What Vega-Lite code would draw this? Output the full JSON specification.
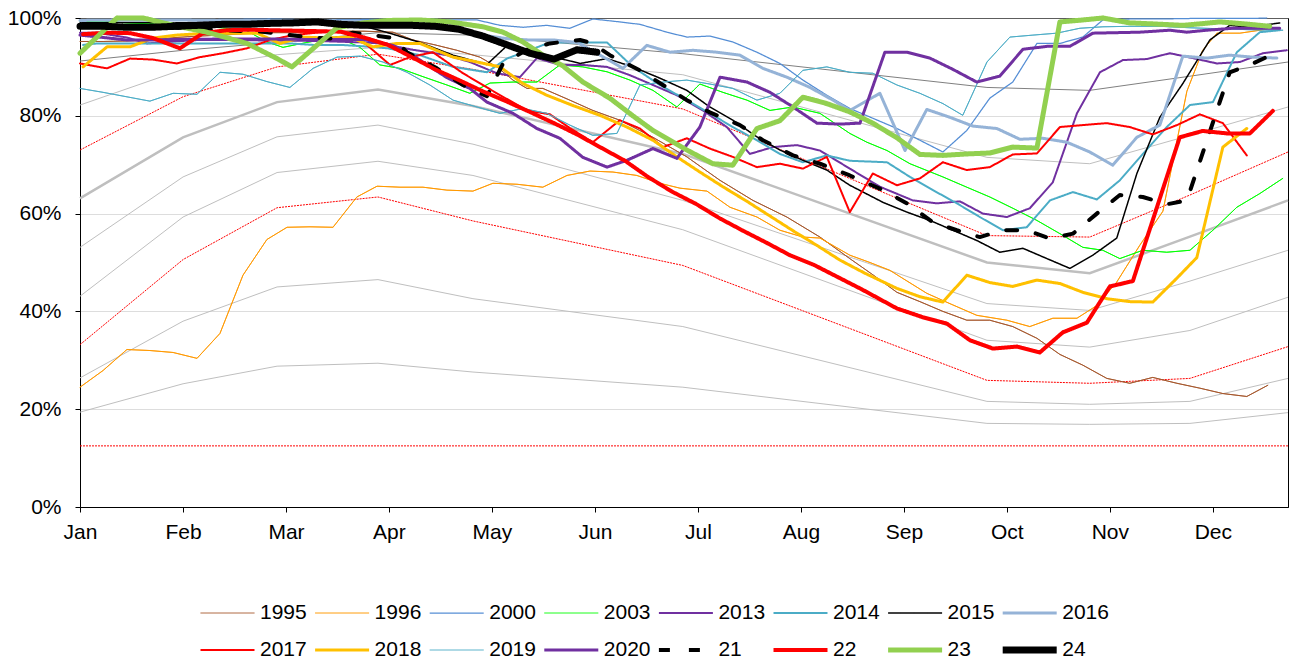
{
"$schema":"https://vega.github.io/schema/vega-lite/v6.json",
"width":1208,"height":489,"autosize":"none",
"padding":{"left":80,"top":18,"right":1,"bottom":161},
"background":"white",
"config":{
 "view":{"stroke":"#000","strokeWidth":1},
 "font":"Liberation Sans",
 "axis":{"labelFont":"Liberation Sans","labelFontSize":21,"labelColor":"#000","domainColor":"#000","tickColor":"#000","tickSize":5,"title":null,"labelOverlap":false,"labelFlush":false},
 "legend":{"labelFont":"Liberation Sans","labelFontSize":21,"labelColor":"#000","labelOffset":2,"symbolType":"stroke","symbolSize":2916,"clipHeight":20,"columnPadding":4.6,"rowPadding":16,"padding":0}
},
"datasets":{
"pct":[
{"p":"d","w":0,"v":91.2},{"p":"d","w":4.35,"v":93.4},{"p":"d","w":8.32,"v":95},{"p":"d","w":12.58,"v":97},{"p":"d","w":16.59,"v":96.5},{"p":"d","w":25.45,"v":92.7},{"p":"d","w":38.29,"v":85.8},{"p":"d","w":42.63,"v":85.2},{"p":"d","w":46.86,"v":88.1},{"p":"d","w":51,"v":91},
{"p":"g2","w":0,"v":82.2},{"p":"g2","w":4.35,"v":89.5},{"p":"g2","w":8.32,"v":92.5},{"p":"g2","w":12.58,"v":94},{"p":"g2","w":16.59,"v":92.5},{"p":"g2","w":25.45,"v":88.4},{"p":"g2","w":38.29,"v":71.5},{"p":"g2","w":42.63,"v":70.2},{"p":"g2","w":46.86,"v":76},{"p":"g2","w":51,"v":81.8},
{"p":"m","w":0,"v":63.1},{"p":"m","w":4.35,"v":75.6},{"p":"m","w":8.32,"v":82.8},{"p":"m","w":12.58,"v":85.4},{"p":"m","w":16.59,"v":82},{"p":"m","w":25.45,"v":72.2},{"p":"m","w":38.29,"v":50},{"p":"m","w":42.63,"v":47.8},{"p":"m","w":46.86,"v":55.3},{"p":"m","w":51,"v":62.7},
{"p":"g4","w":0,"v":53.1},{"p":"g4","w":4.35,"v":67.5},{"p":"g4","w":8.32,"v":75.7},{"p":"g4","w":12.58,"v":78.1},{"p":"g4","w":16.59,"v":74.2},{"p":"g4","w":25.45,"v":62.7},{"p":"g4","w":38.29,"v":41.6},{"p":"g4","w":42.63,"v":40.2},{"p":"g4","w":46.86,"v":46.2},{"p":"g4","w":51,"v":52.5},
{"p":"g5","w":0,"v":43.1},{"p":"g5","w":4.35,"v":59.3},{"p":"g5","w":8.32,"v":68.4},{"p":"g5","w":12.58,"v":70.7},{"p":"g5","w":16.59,"v":67.8},{"p":"g5","w":25.45,"v":56.7},{"p":"g5","w":38.29,"v":34.1},{"p":"g5","w":42.63,"v":32.7},{"p":"g5","w":46.86,"v":36.1},{"p":"g5","w":51,"v":42.9},
{"p":"g6","w":0,"v":26.4},{"p":"g6","w":4.35,"v":38},{"p":"g6","w":8.32,"v":45},{"p":"g6","w":12.58,"v":46.5},{"p":"g6","w":16.59,"v":42.6},{"p":"g6","w":25.45,"v":36.9},{"p":"g6","w":38.29,"v":21.6},{"p":"g6","w":42.63,"v":21},{"p":"g6","w":46.86,"v":21.6},{"p":"g6","w":51,"v":26.3},
{"p":"g7","w":0,"v":19.4},{"p":"g7","w":4.35,"v":25.2},{"p":"g7","w":8.32,"v":28.8},{"p":"g7","w":12.58,"v":29.4},{"p":"g7","w":16.59,"v":27.6},{"p":"g7","w":25.45,"v":24.5},{"p":"g7","w":38.29,"v":17.1},{"p":"g7","w":42.63,"v":16.9},{"p":"g7","w":46.86,"v":17.1},{"p":"g7","w":51,"v":19.3},
{"p":"r1","w":0,"v":73},{"p":"r1","w":4.35,"v":83.9},{"p":"r1","w":8.32,"v":90},{"p":"r1","w":12.58,"v":92.6},{"p":"r1","w":16.59,"v":89.5},{"p":"r1","w":25.45,"v":81.4},{"p":"r1","w":38.29,"v":55.5},{"p":"r1","w":42.63,"v":55.2},{"p":"r1","w":46.86,"v":63.8},{"p":"r1","w":51,"v":72.6},
{"p":"r2","w":0,"v":33.2},{"p":"r2","w":4.35,"v":50.6},{"p":"r2","w":8.32,"v":61.2},{"p":"r2","w":12.58,"v":63.4},{"p":"r2","w":16.59,"v":58.5},{"p":"r2","w":25.45,"v":49.4},{"p":"r2","w":38.29,"v":25.9},{"p":"r2","w":42.63,"v":25.3},{"p":"r2","w":46.86,"v":26.3},{"p":"r2","w":51,"v":32.8},
{"p":"r3","w":0,"v":12.5},{"p":"r3","w":51,"v":12.5}
],
"ser":[
{"s":"1995","w":0,"v":95.2},{"s":"1995","w":1.01,"v":95.2},{"s":"1995","w":1.98,"v":95.3},{"s":"1995","w":3,"v":95.5},{"s":"1995","w":4.01,"v":96},{"s":"1995","w":4.98,"v":96.3},{"s":"1995","w":5.99,"v":96.5},{"s":"1995","w":7,"v":96.8},{"s":"1995","w":8.02,"v":97},{"s":"1995","w":8.99,"v":97},{"s":"1995","w":10,"v":97.2},{"s":"1995","w":11,"v":97.3},{"s":"1995","w":11.99,"v":97.3},{"s":"1995","w":13.21,"v":97.1},{"s":"1995","w":14.06,"v":95.5},{"s":"1995","w":14.99,"v":94.5},{"s":"1995","w":15.91,"v":93.4},{"s":"1995","w":16.88,"v":92},{"s":"1995","w":17.6,"v":90},{"s":"1995","w":18.28,"v":87.3},{"s":"1995","w":18.87,"v":85.6},{"s":"1995","w":19.54,"v":85.6},{"s":"1995","w":20.68,"v":83.2},{"s":"1995","w":21.65,"v":81.1},{"s":"1995","w":22.79,"v":79.1},{"s":"1995","w":24.19,"v":75.6},{"s":"1995","w":25.62,"v":71.6},{"s":"1995","w":27.02,"v":66.8},{"s":"1995","w":28.41,"v":62.7},{"s":"1995","w":29.84,"v":59.3},{"s":"1995","w":31.24,"v":55.2},{"s":"1995","w":32.5,"v":50.8},{"s":"1995","w":33.47,"v":47.5},{"s":"1995","w":34.49,"v":43.9},{"s":"1995","w":35.46,"v":42},{"s":"1995","w":36.43,"v":40},{"s":"1995","w":37.44,"v":38.2},{"s":"1995","w":38.41,"v":38.2},{"s":"1995","w":39.38,"v":36.9},{"s":"1995","w":40.4,"v":34.5},{"s":"1995","w":41.37,"v":31.2},{"s":"1995","w":42.34,"v":29},{"s":"1995","w":43.35,"v":26.3},{"s":"1995","w":44.32,"v":25.3},{"s":"1995","w":45.29,"v":26.5},{"s":"1995","w":46.31,"v":25.3},{"s":"1995","w":47.28,"v":24.3},{"s":"1995","w":48.25,"v":23.2},{"s":"1995","w":49.26,"v":22.6},{"s":"1995","w":50.15,"v":24.9},
{"s":"1996","w":0,"v":24.5},{"s":"1996","w":0.97,"v":27.9},{"s":"1996","w":1.98,"v":32.2},{"s":"1996","w":2.95,"v":32},{"s":"1996","w":3.93,"v":31.6},{"s":"1996","w":4.94,"v":30.4},{"s":"1996","w":5.91,"v":35.5},{"s":"1996","w":6.88,"v":47.4},{"s":"1996","w":7.89,"v":54.7},{"s":"1996","w":8.74,"v":57.2},{"s":"1996","w":9.71,"v":57.3},{"s":"1996","w":10.68,"v":57.2},{"s":"1996","w":11.69,"v":63.4},{"s":"1996","w":12.54,"v":65.6},{"s":"1996","w":13.51,"v":65.4},{"s":"1996","w":14.48,"v":65.4},{"s":"1996","w":15.49,"v":64.8},{"s":"1996","w":16.59,"v":64.6},{"s":"1996","w":17.43,"v":66.2},{"s":"1996","w":18.45,"v":66},{"s":"1996","w":19.54,"v":65.4},{"s":"1996","w":20.56,"v":67.8},{"s":"1996","w":21.53,"v":68.7},{"s":"1996","w":22.5,"v":68.5},{"s":"1996","w":23.51,"v":67.8},{"s":"1996","w":24.48,"v":66.2},{"s":"1996","w":25.33,"v":65.2},{"s":"1996","w":26.47,"v":64.6},{"s":"1996","w":27.44,"v":61.3},{"s":"1996","w":28.58,"v":59.3},{"s":"1996","w":29.55,"v":56.6},{"s":"1996","w":30.52,"v":55.2},{"s":"1996","w":31.24,"v":55},{"s":"1996","w":32.5,"v":51.5},{"s":"1996","w":33.35,"v":50},{"s":"1996","w":34.19,"v":48.4},{"s":"1996","w":35.75,"v":43.7},{"s":"1996","w":36.72,"v":41.6},{"s":"1996","w":37.86,"v":39.2},{"s":"1996","w":39.13,"v":38.2},{"s":"1996","w":40.1,"v":36.9},{"s":"1996","w":41.07,"v":38.6},{"s":"1996","w":42.09,"v":38.6},{"s":"1996","w":42.93,"v":41.2},{"s":"1996","w":43.77,"v":46},{"s":"1996","w":44.74,"v":53.5},{"s":"1996","w":45.72,"v":60.5},{"s":"1996","w":46.73,"v":85},{"s":"1996","w":47.4,"v":93.4},{"s":"1996","w":48,"v":96.9},{"s":"1996","w":48.97,"v":96.9},{"s":"1996","w":50.1,"v":97.7},
{"s":"2000","w":0,"v":99.6},{"s":"2000","w":2,"v":99.7},{"s":"2000","w":4,"v":99.6},{"s":"2000","w":6,"v":99.7},{"s":"2000","w":8,"v":99.8},{"s":"2000","w":10,"v":99.6},{"s":"2000","w":12,"v":99.7},{"s":"2000","w":14.35,"v":99.8},{"s":"2000","w":15.75,"v":99.6},{"s":"2000","w":16.76,"v":99.6},{"s":"2000","w":17.73,"v":98.5},{"s":"2000","w":18.7,"v":98.1},{"s":"2000","w":19.71,"v":98.5},{"s":"2000","w":20.68,"v":97.9},{"s":"2000","w":21.65,"v":99.8},{"s":"2000","w":22.79,"v":99.2},{"s":"2000","w":23.64,"v":98.7},{"s":"2000","w":24.78,"v":97.1},{"s":"2000","w":25.62,"v":96.1},{"s":"2000","w":26.59,"v":96.3},{"s":"2000","w":27.56,"v":95.1},{"s":"2000","w":28.58,"v":93},{"s":"2000","w":29.55,"v":90.7},{"s":"2000","w":30.52,"v":87.3},{"s":"2000","w":31.53,"v":84.2},{"s":"2000","w":32.5,"v":81.5},{"s":"2000","w":33.47,"v":79.5},{"s":"2000","w":34.49,"v":77.4},{"s":"2000","w":35.46,"v":75},{"s":"2000","w":36.43,"v":72.6},{"s":"2000","w":37.44,"v":77},{"s":"2000","w":38.41,"v":83.6},{"s":"2000","w":39.38,"v":86.9},{"s":"2000","w":40.4,"v":94.8},{"s":"2000","w":41.37,"v":94.8},{"s":"2000","w":42.34,"v":96.1},{"s":"2000","w":43.18,"v":99.6},{"s":"2000","w":44.32,"v":99.8},{"s":"2000","w":45.59,"v":99.8},{"s":"2000","w":46.86,"v":99.9},{"s":"2000","w":48.12,"v":99.9},{"s":"2000","w":49.39,"v":99.9},{"s":"2000","w":50.1,"v":100},
{"s":"2003","w":0,"v":99.3},{"s":"2003","w":1.01,"v":99.3},{"s":"2003","w":1.98,"v":99},{"s":"2003","w":3,"v":98.8},{"s":"2003","w":4.01,"v":98.5},{"s":"2003","w":4.98,"v":98.3},{"s":"2003","w":5.99,"v":98},{"s":"2003","w":7,"v":97.5},{"s":"2003","w":7.89,"v":95.1},{"s":"2003","w":8.57,"v":94},{"s":"2003","w":9.58,"v":95},{"s":"2003","w":10.85,"v":96.1},{"s":"2003","w":11.82,"v":94},{"s":"2003","w":12.66,"v":90.4},{"s":"2003","w":13.51,"v":89.7},{"s":"2003","w":14.48,"v":88},{"s":"2003","w":15.49,"v":86.3},{"s":"2003","w":16.46,"v":84.6},{"s":"2003","w":17.31,"v":86.7},{"s":"2003","w":18.28,"v":86.9},{"s":"2003","w":19.29,"v":86.9},{"s":"2003","w":20.26,"v":90.4},{"s":"2003","w":21.23,"v":90},{"s":"2003","w":22.25,"v":89},{"s":"2003","w":23.22,"v":87.3},{"s":"2003","w":24.19,"v":85.2},{"s":"2003","w":25.2,"v":81.8},{"s":"2003","w":26.17,"v":86.5},{"s":"2003","w":27.14,"v":84.8},{"s":"2003","w":28.16,"v":83.2},{"s":"2003","w":29.13,"v":81.1},{"s":"2003","w":30.1,"v":81.8},{"s":"2003","w":31.24,"v":80.5},{"s":"2003","w":32.5,"v":76.4},{"s":"2003","w":33.22,"v":74.6},{"s":"2003","w":34.07,"v":72.9},{"s":"2003","w":35.04,"v":70.2},{"s":"2003","w":36.43,"v":67.5},{"s":"2003","w":37.44,"v":65.4},{"s":"2003","w":38.41,"v":63.4},{"s":"2003","w":39.38,"v":61.1},{"s":"2003","w":40.4,"v":58.6},{"s":"2003","w":41.37,"v":55.9},{"s":"2003","w":42.34,"v":53.1},{"s":"2003","w":43.18,"v":52.5},{"s":"2003","w":43.9,"v":50.8},{"s":"2003","w":44.87,"v":52.5},{"s":"2003","w":45.88,"v":52.1},{"s":"2003","w":46.86,"v":52.5},{"s":"2003","w":47.83,"v":56.6},{"s":"2003","w":48.84,"v":61.3},{"s":"2003","w":49.81,"v":64.1},{"s":"2003","w":50.78,"v":67.2},
{"s":"2013","w":0,"v":97},{"s":"2013","w":0.72,"v":97},{"s":"2013","w":1.98,"v":96},{"s":"2013","w":2.83,"v":94.8},{"s":"2013","w":4.01,"v":95.2},{"s":"2013","w":4.98,"v":95.5},{"s":"2013","w":5.99,"v":95.5},{"s":"2013","w":8.02,"v":95.4},{"s":"2013","w":10,"v":95.3},{"s":"2013","w":11.99,"v":95},{"s":"2013","w":12.66,"v":94.8},{"s":"2013","w":14.06,"v":93.5},{"s":"2013","w":15.49,"v":92.4},{"s":"2013","w":16.46,"v":91},{"s":"2013","w":17.6,"v":88.7},{"s":"2013","w":18.57,"v":87.9},{"s":"2013","w":19.29,"v":91.8},{"s":"2013","w":20.26,"v":90.4},{"s":"2013","w":21.23,"v":90.4},{"s":"2013","w":22.25,"v":90},{"s":"2013","w":23.22,"v":88.3},{"s":"2013","w":24.19,"v":86.3},{"s":"2013","w":25.2,"v":84.2},{"s":"2013","w":26.3,"v":81.1},{"s":"2013","w":27.31,"v":77.7},{"s":"2013","w":28.28,"v":72.2},{"s":"2013","w":29.25,"v":73.6},{"s":"2013","w":30.27,"v":74},{"s":"2013","w":31.24,"v":72.9},{"s":"2013","w":32.5,"v":69.2},{"s":"2013","w":33.77,"v":65.5},{"s":"2013","w":35.16,"v":62.7},{"s":"2013","w":36.18,"v":62.1},{"s":"2013","w":37.15,"v":62.5},{"s":"2013","w":38.12,"v":60},{"s":"2013","w":39.13,"v":59.3},{"s":"2013","w":40.1,"v":61.1},{"s":"2013","w":41.07,"v":66.4},{"s":"2013","w":42.09,"v":80.5},{"s":"2013","w":43.06,"v":88.9},{"s":"2013","w":44.03,"v":91.4},{"s":"2013","w":45.04,"v":91.6},{"s":"2013","w":46.01,"v":92.8},{"s":"2013","w":46.98,"v":91.8},{"s":"2013","w":48,"v":90.7},{"s":"2013","w":48.97,"v":91},{"s":"2013","w":49.94,"v":92.8},{"s":"2013","w":50.95,"v":93.4},
{"s":"2014","w":0.13,"v":94.5},{"s":"2014","w":0.72,"v":94.8},{"s":"2014","w":2,"v":94.8},{"s":"2014","w":4,"v":94.8},{"s":"2014","w":6,"v":94.8},{"s":"2014","w":8.86,"v":94.8},{"s":"2014","w":9.84,"v":94.5},{"s":"2014","w":11,"v":94.5},{"s":"2014","w":12,"v":94.2},{"s":"2014","w":13,"v":93.8},{"s":"2014","w":14.35,"v":92.4},{"s":"2014","w":15.75,"v":90},{"s":"2014","w":17.18,"v":88.9},{"s":"2014","w":18.02,"v":91.7},{"s":"2014","w":19.84,"v":95},{"s":"2014","w":22.25,"v":95},{"s":"2014","w":23.34,"v":90},{"s":"2014","w":24.48,"v":86.3},{"s":"2014","w":25.62,"v":83.2},{"s":"2014","w":26.59,"v":80.5},{"s":"2014","w":27.56,"v":77.7},{"s":"2014","w":28.58,"v":75},{"s":"2014","w":29.55,"v":72.2},{"s":"2014","w":30.52,"v":70.5},{"s":"2014","w":31.53,"v":71.9},{"s":"2014","w":32.5,"v":70.8},{"s":"2014","w":34.07,"v":70.5},{"s":"2014","w":35.04,"v":67.5},{"s":"2014","w":36.01,"v":64.8},{"s":"2014","w":37.02,"v":62.1},{"s":"2014","w":37.99,"v":59.3},{"s":"2014","w":38.96,"v":56.6},{"s":"2014","w":39.97,"v":57.2},{"s":"2014","w":40.95,"v":62.7},{"s":"2014","w":41.92,"v":64.4},{"s":"2014","w":42.93,"v":62.9},{"s":"2014","w":43.9,"v":66.8},{"s":"2014","w":44.87,"v":72.2},{"s":"2014","w":45.88,"v":77.7},{"s":"2014","w":46.86,"v":82.2},{"s":"2014","w":47.83,"v":82.8},{"s":"2014","w":48.84,"v":93},{"s":"2014","w":49.81,"v":97.1},{"s":"2014","w":50.65,"v":97.5},
{"s":"2015","w":0,"v":99},{"s":"2015","w":2,"v":99.1},{"s":"2015","w":4,"v":99},{"s":"2015","w":6,"v":99.2},{"s":"2015","w":8,"v":99.2},{"s":"2015","w":10,"v":99.3},{"s":"2015","w":11,"v":99},{"s":"2015","w":11.99,"v":98.3},{"s":"2015","w":13,"v":97},{"s":"2015","w":14.35,"v":95},{"s":"2015","w":15.75,"v":92.4},{"s":"2015","w":17.18,"v":90.5},{"s":"2015","w":18.02,"v":94.3},{"s":"2015","w":18.99,"v":93.5},{"s":"2015","w":19.71,"v":92.4},{"s":"2015","w":21.11,"v":90.7},{"s":"2015","w":22.25,"v":91.7},{"s":"2015","w":23.34,"v":90},{"s":"2015","w":24.48,"v":87.7},{"s":"2015","w":25.62,"v":85.2},{"s":"2015","w":26.59,"v":81.8},{"s":"2015","w":27.56,"v":79.1},{"s":"2015","w":28.58,"v":75.7},{"s":"2015","w":29.55,"v":73},{"s":"2015","w":30.52,"v":70.9},{"s":"2015","w":31.53,"v":68.9},{"s":"2015","w":32.5,"v":65.8},{"s":"2015","w":33.9,"v":62.3},{"s":"2015","w":34.91,"v":60.3},{"s":"2015","w":35.88,"v":58.6},{"s":"2015","w":36.85,"v":56.6},{"s":"2015","w":37.86,"v":54.5},{"s":"2015","w":38.83,"v":52.1},{"s":"2015","w":39.81,"v":52.9},{"s":"2015","w":40.82,"v":50.8},{"s":"2015","w":41.79,"v":48.8},{"s":"2015","w":42.76,"v":51.5},{"s":"2015","w":43.77,"v":55},{"s":"2015","w":44.62,"v":68.2},{"s":"2015","w":45.59,"v":79.7},{"s":"2015","w":46.56,"v":86.6},{"s":"2015","w":47.7,"v":95.5},{"s":"2015","w":48.54,"v":98.5},{"s":"2015","w":49.39,"v":98.1},{"s":"2015","w":50.65,"v":99},
{"s":"2016","w":0,"v":99.5},{"s":"2016","w":2,"v":99.6},{"s":"2016","w":4,"v":99.6},{"s":"2016","w":6,"v":99.5},{"s":"2016","w":8,"v":99.5},{"s":"2016","w":10,"v":99.4},{"s":"2016","w":11.99,"v":99.3},{"s":"2016","w":13,"v":99},{"s":"2016","w":14,"v":98.5},{"s":"2016","w":15,"v":98},{"s":"2016","w":16,"v":97.5},{"s":"2016","w":17,"v":96.5},{"s":"2016","w":18,"v":95.8},{"s":"2016","w":18.99,"v":95.5},{"s":"2016","w":20,"v":95.5},{"s":"2016","w":20.98,"v":95},{"s":"2016","w":21.82,"v":92.8},{"s":"2016","w":22.92,"v":89.7},{"s":"2016","w":23.93,"v":94.4},{"s":"2016","w":24.91,"v":93},{"s":"2016","w":25.88,"v":93.4},{"s":"2016","w":26.89,"v":93},{"s":"2016","w":27.86,"v":92.4},{"s":"2016","w":28.83,"v":89.7},{"s":"2016","w":29.84,"v":87.9},{"s":"2016","w":30.82,"v":85.8},{"s":"2016","w":31.79,"v":83.2},{"s":"2016","w":32.5,"v":81.1},{"s":"2016","w":33.77,"v":84.6},{"s":"2016","w":34.83,"v":72.9},{"s":"2016","w":35.75,"v":81.3},{"s":"2016","w":36.72,"v":79.7},{"s":"2016","w":37.69,"v":77.9},{"s":"2016","w":38.71,"v":77.4},{"s":"2016","w":39.68,"v":75.2},{"s":"2016","w":40.65,"v":75.4},{"s":"2016","w":41.66,"v":74.6},{"s":"2016","w":42.63,"v":72.6},{"s":"2016","w":43.6,"v":69.9},{"s":"2016","w":44.62,"v":75.6},{"s":"2016","w":45.59,"v":78.1},{"s":"2016","w":46.56,"v":92.2},{"s":"2016","w":47.57,"v":91.8},{"s":"2016","w":48.54,"v":92.4},{"s":"2016","w":49.51,"v":92},{"s":"2016","w":50.53,"v":91.8},
{"s":"2017","w":0,"v":90.7},{"s":"2017","w":1.14,"v":89.7},{"s":"2017","w":2.11,"v":91.7},{"s":"2017","w":3.08,"v":91.5},{"s":"2017","w":4.09,"v":90.7},{"s":"2017","w":5.07,"v":92},{"s":"2017","w":6.04,"v":92.8},{"s":"2017","w":7.05,"v":93.8},{"s":"2017","w":8.02,"v":95.5},{"s":"2017","w":8.99,"v":96.5},{"s":"2017","w":10,"v":97},{"s":"2017","w":11,"v":97.3},{"s":"2017","w":11.99,"v":95},{"s":"2017","w":13.09,"v":90.4},{"s":"2017","w":13.93,"v":92},{"s":"2017","w":14.9,"v":93},{"s":"2017","w":16.17,"v":88.7},{"s":"2017","w":17.6,"v":84.6},{"s":"2017","w":18.87,"v":81.1},{"s":"2017","w":19.84,"v":80.3},{"s":"2017","w":20.68,"v":77.5},{"s":"2017","w":21.65,"v":74.6},{"s":"2017","w":22.79,"v":79.1},{"s":"2017","w":23.64,"v":77.4},{"s":"2017","w":24.61,"v":73.6},{"s":"2017","w":25.62,"v":75.4},{"s":"2017","w":26.59,"v":73.3},{"s":"2017","w":27.56,"v":71.6},{"s":"2017","w":28.58,"v":69.5},{"s":"2017","w":29.55,"v":70.2},{"s":"2017","w":30.52,"v":69.2},{"s":"2017","w":31.53,"v":71.6},{"s":"2017","w":32.5,"v":60.3},{"s":"2017","w":33.47,"v":68.2},{"s":"2017","w":34.49,"v":65.8},{"s":"2017","w":35.46,"v":67.2},{"s":"2017","w":36.43,"v":70.5},{"s":"2017","w":37.44,"v":68.9},{"s":"2017","w":38.41,"v":69.5},{"s":"2017","w":39.38,"v":72.1},{"s":"2017","w":40.4,"v":72.3},{"s":"2017","w":41.37,"v":77.7},{"s":"2017","w":42.34,"v":78.1},{"s":"2017","w":43.35,"v":78.5},{"s":"2017","w":44.32,"v":77.7},{"s":"2017","w":45.29,"v":76.2},{"s":"2017","w":46.31,"v":78.1},{"s":"2017","w":47.28,"v":80.3},{"s":"2017","w":48.25,"v":78.5},{"s":"2017","w":49.26,"v":71.9},
{"s":"2018","w":0.13,"v":90},{"s":"2018","w":1.14,"v":94.1},{"s":"2018","w":2.11,"v":94.1},{"s":"2018","w":3.08,"v":95.9},{"s":"2018","w":4.09,"v":96.5},{"s":"2018","w":5.07,"v":96.8},{"s":"2018","w":6.46,"v":96.9},{"s":"2018","w":7.47,"v":96.9},{"s":"2018","w":8.44,"v":94.8},{"s":"2018","w":9.41,"v":96.1},{"s":"2018","w":10.43,"v":95.9},{"s":"2018","w":11.4,"v":96.1},{"s":"2018","w":12.37,"v":94.1},{"s":"2018","w":13.38,"v":94.8},{"s":"2018","w":14.35,"v":94.8},{"s":"2018","w":15.75,"v":92},{"s":"2018","w":16.76,"v":91},{"s":"2018","w":17.73,"v":90},{"s":"2018","w":18.7,"v":86.6},{"s":"2018","w":19.71,"v":84.2},{"s":"2018","w":20.81,"v":82.1},{"s":"2018","w":21.95,"v":80.1},{"s":"2018","w":23.09,"v":77.7},{"s":"2018","w":24.19,"v":75},{"s":"2018","w":25.2,"v":71.6},{"s":"2018","w":26.17,"v":68.5},{"s":"2018","w":27.14,"v":65.5},{"s":"2018","w":28.16,"v":62.5},{"s":"2018","w":29.13,"v":59.5},{"s":"2018","w":30.1,"v":56.5},{"s":"2018","w":31.11,"v":53.5},{"s":"2018","w":32.08,"v":50.5},{"s":"2018","w":33.14,"v":47.8},{"s":"2018","w":34.49,"v":44.7},{"s":"2018","w":35.46,"v":43},{"s":"2018","w":36.43,"v":41.9},{"s":"2018","w":37.44,"v":47.4},{"s":"2018","w":38.41,"v":45.9},{"s":"2018","w":39.38,"v":45.1},{"s":"2018","w":40.4,"v":46.4},{"s":"2018","w":41.37,"v":45.7},{"s":"2018","w":42.34,"v":43.9},{"s":"2018","w":43.35,"v":42.6},{"s":"2018","w":44.32,"v":42},{"s":"2018","w":45.29,"v":41.9},{"s":"2018","w":46.31,"v":46.8},{"s":"2018","w":47.15,"v":51},{"s":"2018","w":48.25,"v":73.6},{"s":"2018","w":49.26,"v":77.4},
{"s":"2019","w":0,"v":85.6},{"s":"2019","w":0.97,"v":84.8},{"s":"2019","w":2.95,"v":83},{"s":"2019","w":3.93,"v":84.6},{"s":"2019","w":4.94,"v":84.4},{"s":"2019","w":5.91,"v":88.9},{"s":"2019","w":6.88,"v":88.5},{"s":"2019","w":7.89,"v":87},{"s":"2019","w":8.86,"v":85.8},{"s":"2019","w":9.84,"v":89.7},{"s":"2019","w":10.85,"v":92},{"s":"2019","w":11.82,"v":92.2},{"s":"2019","w":12.79,"v":91},{"s":"2019","w":13.8,"v":88.9},{"s":"2019","w":14.77,"v":86.3},{"s":"2019","w":15.75,"v":83.2},{"s":"2019","w":16.76,"v":81.8},{"s":"2019","w":17.73,"v":80.5},{"s":"2019","w":18.7,"v":81.5},{"s":"2019","w":19.71,"v":80.5},{"s":"2019","w":20.68,"v":78.1},{"s":"2019","w":21.65,"v":76},{"s":"2019","w":22.67,"v":76.4},{"s":"2019","w":23.64,"v":86.3},{"s":"2019","w":24.61,"v":86.9},{"s":"2019","w":25.62,"v":87.3},{"s":"2019","w":26.59,"v":86.5},{"s":"2019","w":27.56,"v":85.6},{"s":"2019","w":28.58,"v":83.2},{"s":"2019","w":29.55,"v":84.6},{"s":"2019","w":30.52,"v":89.3},{"s":"2019","w":31.53,"v":90},{"s":"2019","w":32.5,"v":88.9},{"s":"2019","w":33.47,"v":88.7},{"s":"2019","w":34.49,"v":86.3},{"s":"2019","w":35.46,"v":84.6},{"s":"2019","w":36.43,"v":82.5},{"s":"2019","w":37.27,"v":80.1},{"s":"2019","w":38.29,"v":91},{"s":"2019","w":39.26,"v":96.1},{"s":"2019","w":40.23,"v":96.5},{"s":"2019","w":41.24,"v":96.9},{"s":"2019","w":42.21,"v":97.9},{"s":"2019","w":43.18,"v":98.2},{"s":"2019","w":44.32,"v":98.3},{"s":"2019","w":45.59,"v":98.3},{"s":"2019","w":46.86,"v":98},{"s":"2019","w":48.12,"v":97.8},{"s":"2019","w":49.39,"v":97.6},{"s":"2019","w":50.78,"v":97.5},
{"s":"2020","w":0,"v":96.5},{"s":"2020","w":1.01,"v":96},{"s":"2020","w":1.98,"v":95.5},{"s":"2020","w":3,"v":95.5},{"s":"2020","w":4.01,"v":95.6},{"s":"2020","w":6,"v":95.7},{"s":"2020","w":8,"v":95.7},{"s":"2020","w":10,"v":95.6},{"s":"2020","w":11.99,"v":95.6},{"s":"2020","w":13.21,"v":94.4},{"s":"2020","w":14.1,"v":92.2},{"s":"2020","w":15.49,"v":87.8},{"s":"2020","w":16.46,"v":85.6},{"s":"2020","w":17.18,"v":82.8},{"s":"2020","w":18.28,"v":80.5},{"s":"2020","w":19.29,"v":77.4},{"s":"2020","w":20.26,"v":75.4},{"s":"2020","w":21.23,"v":71.5},{"s":"2020","w":22.25,"v":69.5},{"s":"2020","w":23.09,"v":70.9},{"s":"2020","w":24.19,"v":73.3},{"s":"2020","w":25.2,"v":71.3},{"s":"2020","w":26.17,"v":77.7},{"s":"2020","w":27.02,"v":87.9},{"s":"2020","w":28.16,"v":86.9},{"s":"2020","w":29.13,"v":84.8},{"s":"2020","w":30.1,"v":81.8},{"s":"2020","w":31.11,"v":78.5},{"s":"2020","w":32.08,"v":78.3},{"s":"2020","w":32.93,"v":78.5},{"s":"2020","w":33.98,"v":93},{"s":"2020","w":34.91,"v":93},{"s":"2020","w":35.88,"v":91.8},{"s":"2020","w":36.85,"v":89.5},{"s":"2020","w":37.86,"v":86.9},{"s":"2020","w":38.83,"v":88.1},{"s":"2020","w":39.81,"v":93.6},{"s":"2020","w":40.82,"v":94.2},{"s":"2020","w":41.79,"v":94.2},{"s":"2020","w":42.76,"v":96.9},{"s":"2020","w":44.74,"v":97.1},{"s":"2020","w":46.01,"v":97.5},{"s":"2020","w":46.73,"v":97.1},{"s":"2020","w":47.57,"v":97.5},{"s":"2020","w":48.67,"v":97.9},{"s":"2020","w":50.65,"v":97.9},
{"s":"21","w":0,"v":98.5},{"s":"21","w":1.01,"v":98.5},{"s":"21","w":1.98,"v":98.3},{"s":"21","w":3,"v":98},{"s":"21","w":4.01,"v":98},{"s":"21","w":4.98,"v":97.8},{"s":"21","w":5.99,"v":97.5},{"s":"21","w":7,"v":97.3},{"s":"21","w":7.72,"v":97.2},{"s":"21","w":8.74,"v":96.6},{"s":"21","w":9.71,"v":96},{"s":"21","w":10.68,"v":95.8},{"s":"21","w":11.52,"v":97},{"s":"21","w":12.37,"v":96.5},{"s":"21","w":13.21,"v":95.9},{"s":"21","w":13.8,"v":93},{"s":"21","w":15.07,"v":89.7},{"s":"21","w":16.17,"v":86.3},{"s":"21","w":17.18,"v":84},{"s":"21","w":17.86,"v":90.7},{"s":"21","w":18.87,"v":93.5},{"s":"21","w":19.84,"v":94.8},{"s":"21","w":21.11,"v":95.5},{"s":"21","w":21.65,"v":94.8},{"s":"21","w":22.37,"v":92.4},{"s":"21","w":23.64,"v":89.3},{"s":"21","w":24.61,"v":86.3},{"s":"21","w":25.62,"v":83.2},{"s":"21","w":26.59,"v":80.7},{"s":"21","w":27.86,"v":78.1},{"s":"21","w":28.83,"v":75},{"s":"21","w":30.1,"v":71.9},{"s":"21","w":31.24,"v":70.2},{"s":"21","w":32.5,"v":67.8},{"s":"21","w":33.9,"v":64.8},{"s":"21","w":34.91,"v":62.1},{"s":"21","w":36.01,"v":58.2},{"s":"21","w":37.02,"v":56.6},{"s":"21","w":37.99,"v":55.2},{"s":"21","w":38.96,"v":56.6},{"s":"21","w":39.97,"v":56.6},{"s":"21","w":40.95,"v":54.9},{"s":"21","w":41.92,"v":55.9},{"s":"21","w":42.93,"v":60},{"s":"21","w":43.9,"v":63.8},{"s":"21","w":44.87,"v":63.4},{"s":"21","w":45.88,"v":61.9},{"s":"21","w":46.73,"v":62.7},{"s":"21","w":48.54,"v":88.9},{"s":"21","w":49.39,"v":90.4},{"s":"21","w":50.53,"v":93},
{"s":"22","w":0.13,"v":96.7},{"s":"22","w":1.14,"v":97},{"s":"22","w":2.11,"v":96.9},{"s":"22","w":3.08,"v":95.9},{"s":"22","w":4.22,"v":93.8},{"s":"22","w":5.19,"v":96.9},{"s":"22","w":6.21,"v":97.5},{"s":"22","w":7.13,"v":97.6},{"s":"22","w":8.15,"v":97.5},{"s":"22","w":9.16,"v":97.4},{"s":"22","w":10.13,"v":97.3},{"s":"22","w":11,"v":97.2},{"s":"22","w":11.99,"v":96},{"s":"22","w":13,"v":94.5},{"s":"22","w":14.01,"v":92},{"s":"22","w":14.99,"v":89.5},{"s":"22","w":16,"v":87.3},{"s":"22","w":17.01,"v":85},{"s":"22","w":17.98,"v":83},{"s":"22","w":18.99,"v":80.8},{"s":"22","w":20.01,"v":78.5},{"s":"22","w":20.98,"v":76.2},{"s":"22","w":21.99,"v":73.5},{"s":"22","w":23.01,"v":70.8},{"s":"22","w":23.98,"v":67.5},{"s":"22","w":24.99,"v":64.5},{"s":"22","w":26,"v":62},{"s":"22","w":27.02,"v":59},{"s":"22","w":27.99,"v":56.5},{"s":"22","w":29,"v":54},{"s":"22","w":29.97,"v":51.5},{"s":"22","w":30.99,"v":49.5},{"s":"22","w":32,"v":47},{"s":"22","w":33.01,"v":44.5},{"s":"22","w":34.49,"v":40.6},{"s":"22","w":35.58,"v":38.8},{"s":"22","w":36.6,"v":37.5},{"s":"22","w":37.57,"v":34.1},{"s":"22","w":38.54,"v":32.4},{"s":"22","w":39.55,"v":32.8},{"s":"22","w":40.52,"v":31.6},{"s":"22","w":41.49,"v":35.7},{"s":"22","w":42.51,"v":37.7},{"s":"22","w":43.48,"v":45.1},{"s":"22","w":44.45,"v":46.2},{"s":"22","w":46.43,"v":75.6},{"s":"22","w":47.4,"v":76.9},{"s":"22","w":48.42,"v":76.4},{"s":"22","w":49.39,"v":76.4},{"s":"22","w":50.36,"v":81},
{"s":"23","w":0,"v":92.8},{"s":"23","w":1.56,"v":100},{"s":"23","w":2.66,"v":100},{"s":"23","w":3.93,"v":98.5},{"s":"23","w":5.36,"v":97.1},{"s":"23","w":7.05,"v":94.8},{"s":"23","w":8.32,"v":91.7},{"s":"23","w":8.95,"v":90},{"s":"23","w":10.85,"v":98},{"s":"23","w":11.99,"v":99},{"s":"23","w":13,"v":99.5},{"s":"23","w":14.35,"v":99.6},{"s":"23","w":15.62,"v":99.2},{"s":"23","w":17.01,"v":98.2},{"s":"23","w":17.86,"v":97.1},{"s":"23","w":18.7,"v":95.1},{"s":"23","w":19.55,"v":92.4},{"s":"23","w":20.39,"v":90.2},{"s":"23","w":21.23,"v":86.9},{"s":"23","w":22.37,"v":83.6},{"s":"23","w":23.34,"v":80},{"s":"23","w":24.19,"v":77},{"s":"23","w":25.62,"v":73},{"s":"23","w":26.72,"v":70.2},{"s":"23","w":27.56,"v":69.9},{"s":"23","w":28.58,"v":77.4},{"s":"23","w":29.55,"v":79},{"s":"23","w":30.52,"v":83.8},{"s":"23","w":31.53,"v":82.5},{"s":"23","w":32.5,"v":80.8},{"s":"23","w":33.47,"v":78.5},{"s":"23","w":34.49,"v":75.5},{"s":"23","w":35.46,"v":72.1},{"s":"23","w":36.43,"v":71.9},{"s":"23","w":37.44,"v":72.2},{"s":"23","w":38.41,"v":72.4},{"s":"23","w":39.38,"v":73.6},{"s":"23","w":40.4,"v":73.4},{"s":"23","w":41.37,"v":99.2},{"s":"23","w":42.34,"v":99.6},{"s":"23","w":43.18,"v":100},{"s":"23","w":44.32,"v":99},{"s":"23","w":45.29,"v":98.8},{"s":"23","w":46.56,"v":98.5},{"s":"23","w":47.28,"v":98.8},{"s":"23","w":48.12,"v":99.2},{"s":"23","w":49.17,"v":98.8},{"s":"23","w":50.23,"v":98.3},
{"s":"24","w":0,"v":98.3},{"s":"24","w":1.01,"v":98.3},{"s":"24","w":1.98,"v":98.1},{"s":"24","w":3,"v":98.1},{"s":"24","w":4.01,"v":98.3},{"s":"24","w":4.98,"v":98.5},{"s":"24","w":5.99,"v":98.7},{"s":"24","w":7,"v":98.7},{"s":"24","w":8.02,"v":98.9},{"s":"24","w":8.99,"v":99},{"s":"24","w":10,"v":99.2},{"s":"24","w":11,"v":98.7},{"s":"24","w":11.99,"v":98.5},{"s":"24","w":13,"v":98.5},{"s":"24","w":14.01,"v":98.5},{"s":"24","w":14.99,"v":98.3},{"s":"24","w":16,"v":97.7},{"s":"24","w":17.01,"v":96.3},{"s":"24","w":17.98,"v":94.6},{"s":"24","w":18.99,"v":92.8},{"s":"24","w":20.01,"v":91.6},{"s":"24","w":20.98,"v":93.5},{"s":"24","w":21.82,"v":93}
]
},
"encoding":{
 "x":{"field":"w","type":"quantitative","scale":{"domain":[0,51],"nice":false,"zero":false},
  "axis":{"values":[0,4.348,8.696,13.043,17.391,21.739,26.087,30.435,34.783,39.13,43.478,47.826],
   "labelExpr":"['Jan','Feb','Mar','Apr','May','Jun','Jul','Aug','Sep','Oct','Nov','Dec'][round(datum.value/4.348)]",
   "grid":false,"labelPadding":9,"labelAngle":0}},
 "y":{"field":"v","type":"quantitative","scale":{"domain":[0,100],"nice":false},
  "axis":{"values":[0,20,40,60,80,100],"labelExpr":"datum.value + '%'","grid":true,"gridColor":"#BBBBBB","gridDash":[1,1],"labelPadding":14}}
},
"layer":[
 {"data":{"name":"pct"},"transform":[{"filter":"indexof(['g2','g4','g5','g6','g7'], datum.p) >= 0"}],
  "mark":{"type":"line","color":"#BFBFBF","strokeWidth":1},"encoding":{"detail":{"field":"p"}}},
 {"data":{"name":"pct"},"transform":[{"filter":"datum.p == 'd'"}],
  "mark":{"type":"line","color":"#808080","strokeWidth":1},"encoding":{}},
 {"data":{"name":"pct"},"transform":[{"filter":"datum.p == 'm'"}],
  "mark":{"type":"line","color":"#BFBFBF","strokeWidth":2.5},"encoding":{}},
 {"data":{"name":"pct"},"transform":[{"filter":"indexof(['r1','r2','r3'], datum.p) >= 0"}],
  "mark":{"type":"line","color":"#FF0000","strokeWidth":1,"strokeDash":[2,1]},"encoding":{"detail":{"field":"p"}}},
 {"data":{"name":"ser"},
  "mark":{"type":"line","strokeJoin":"round","strokeCap":"round"},
  "encoding":{
   "color":{"field":"s","type":"nominal","title":null,
     "scale":{"domain":["1995","1996","2000","2003","2013","2014","2015","2016","2017","2018","2019","2020","21","22","23","24"],
              "range":["#A5562B","#FF9900","#558ED5","#00FF00","#7030A0","#4BACC6","#000000","#95B3D7","#FF0000","#FFC000","#4BACC6","#7030A0","#000000","#FF0000","#92D050","#000000"]},
     "legend":{"orient":"none","legendX":117,"legendY":585,"direction":"horizontal","columns":8}},
   "strokeWidth":{"field":"s","type":"nominal","title":null,
     "scale":{"type":"ordinal","domain":["1995","1996","2000","2003","2013","2014","2015","2016","2017","2018","2019","2020","21","22","23","24"],
              "range":[1,1,1.25,1,2,2,1.5,3,2,3,1,3,4,4,5,7]},
     "legend":{"orient":"none","legendX":117,"legendY":585,"direction":"horizontal","columns":8}},
   "strokeDash":{"field":"s","type":"nominal","title":null,
     "scale":{"domain":["1995","1996","2000","2003","2013","2014","2015","2016","2017","2018","2019","2020","21","22","23","24"],
              "range":[[1,0],[1,0],[1,0],[1,0],[1,0],[1,0],[1,0],[1,0],[1,0],[1,0],[1,0],[1,0],[11,19],[1,0],[1,0],[1,0]]},
     "legend":{"orient":"none","legendX":117,"legendY":585,"direction":"horizontal","columns":8}}
  }}
]
}
